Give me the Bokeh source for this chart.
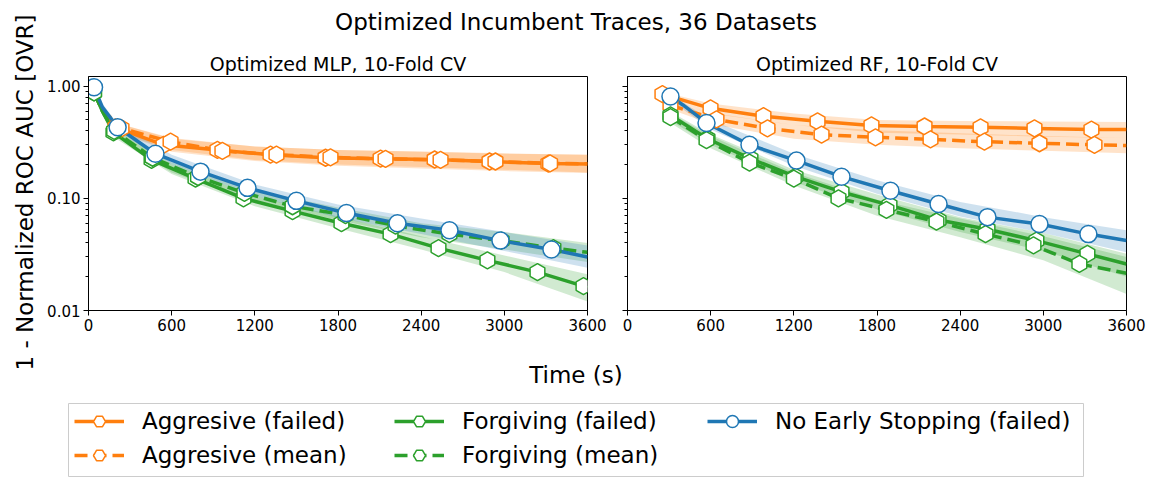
import numpy as np
from bokeh.plotting import figure
from bokeh.layouts import column, row
from bokeh.models import Range1d, FixedTicker, PrintfTickFormatter, Legend, LegendItem, Label
from bokeh.embed import file_html
from bokeh.resources import INLINE

FONT = "DejaVu Sans"
ORANGE = "#ff7f0e"
GREEN = "#2ca02c"
BLUE = "#1f77b4"

SUPTITLE = "Optimized Incumbent Traces, 36 Datasets"
PANEL_TITLES = ["Optimized MLP, 10-Fold CV", "Optimized RF, 10-Fold CV"]
X_LABEL = "Time (s)"
Y_LABEL = "1 - Normalized ROC AUC [OVR]"
LABELS = ["Aggresive (failed)", "Aggresive (mean)", "Forgiving (failed)",
          "Forgiving (mean)", "No Early Stopping (failed)"]
X_TICKS = [0, 600, 1200, 1800, 2400, 3000, 3600]
Y_TICKS = [0.01, 0.1, 1.0]
Y_MINOR = [0.02, 0.03, 0.04, 0.05, 0.06, 0.07, 0.08, 0.09,
           0.2, 0.3, 0.4, 0.5, 0.6, 0.7, 0.8, 0.9]

# ---------------- MLP panel (time in s, 1 - normalized ROC AUC) ----------------
mlp_t_agg_failed = [30, 100, 195, 541, 930, 1313, 1710, 2107, 2497, 2893, 3318, 3600]
mlp_y_agg_failed = [0.92, 0.62, 0.43, 0.30, 0.27, 0.245, 0.23, 0.226, 0.222, 0.213, 0.204, 0.202]
mlp_t_agg_mean = [35, 100, 238, 592, 966, 1356, 1746, 2143, 2540, 2936, 3330, 3600]
mlp_y_agg_mean = [0.90, 0.62, 0.42, 0.32, 0.265, 0.245, 0.232, 0.225, 0.22, 0.213, 0.205, 0.203]
mlp_t_forg_failed = [40, 100, 180, 455, 772, 1118, 1472, 1825, 2179, 2525, 2878, 3239, 3571, 3600]
mlp_y_forg_failed = [0.88, 0.60, 0.387, 0.22, 0.15, 0.10, 0.077, 0.060, 0.048, 0.036, 0.028, 0.022, 0.0165, 0.016]
mlp_t_forg_mean = [40, 100, 185, 462, 790, 1125, 1472, 1854, 2215, 2604, 2980, 3354, 3600]
mlp_y_forg_mean = [0.88, 0.60, 0.40, 0.23, 0.155, 0.112, 0.085, 0.071, 0.057, 0.048, 0.042, 0.036, 0.033]
mlp_t_none = [40, 100, 210, 483, 808, 1147, 1500, 1861, 2229, 2604, 2972, 3340, 3600]
mlp_y_none = [0.98, 0.65, 0.43, 0.25, 0.173, 0.124, 0.095, 0.074, 0.060, 0.052, 0.042, 0.035, 0.030]

mlp_band_t = [40, 100, 200, 600, 1200, 1800, 2400, 3000, 3600]
mlp_lo_agg_failed = [0.85, 0.57, 0.39, 0.26, 0.215, 0.195, 0.185, 0.175, 0.168]
mlp_hi_agg_failed = [0.95, 0.67, 0.47, 0.34, 0.29, 0.27, 0.26, 0.25, 0.245]
mlp_lo_agg_mean = [0.85, 0.57, 0.39, 0.27, 0.22, 0.20, 0.19, 0.18, 0.17]
mlp_hi_agg_mean = [0.95, 0.67, 0.47, 0.345, 0.29, 0.27, 0.262, 0.252, 0.245]
mlp_lo_forg_failed = [0.83, 0.55, 0.34, 0.165, 0.085, 0.054, 0.035, 0.022, 0.012]
mlp_hi_forg_failed = [0.93, 0.65, 0.40, 0.20, 0.105, 0.069, 0.046, 0.031, 0.021]
mlp_lo_forg_mean = [0.83, 0.55, 0.36, 0.17, 0.093, 0.064, 0.045, 0.035, 0.027]
mlp_hi_forg_mean = [0.93, 0.65, 0.42, 0.21, 0.118, 0.083, 0.060, 0.050, 0.040]
mlp_lo_none = [0.93, 0.60, 0.40, 0.20, 0.105, 0.067, 0.048, 0.034, 0.024]
mlp_hi_none = [1.03, 0.70, 0.48, 0.245, 0.133, 0.088, 0.066, 0.050, 0.038]

# ---------------- RF panel ----------------
rf_t_agg_failed = [252, 599, 981, 1371, 1760, 2143, 2547, 2936, 3347, 3600]
rf_y_agg_failed = [0.85, 0.635, 0.54, 0.486, 0.447, 0.437, 0.43, 0.42, 0.41, 0.41]
rf_t_agg_mean = [310, 642, 1010, 1400, 1789, 2186, 2575, 2972, 3369, 3600]
rf_y_agg_mean = [0.675, 0.506, 0.42, 0.37, 0.35, 0.335, 0.32, 0.31, 0.30, 0.296]
rf_t_forg_failed = [310, 577, 887, 1212, 1544, 1890, 2244, 2597, 2950, 3318, 3600]
rf_y_forg_failed = [0.55, 0.34, 0.226, 0.156, 0.114, 0.087, 0.064, 0.053, 0.042, 0.032, 0.026]
rf_t_forg_mean = [310, 570, 880, 1200, 1522, 1868, 2229, 2583, 2929, 3260, 3600]
rf_y_forg_mean = [0.53, 0.33, 0.208, 0.15, 0.10, 0.079, 0.062, 0.048, 0.038, 0.026, 0.0215]
rf_t_none = [310, 400, 570, 880, 1219, 1544, 1897, 2244, 2597, 2972, 3325, 3600]
rf_y_none = [0.81, 0.68, 0.47, 0.30, 0.217, 0.156, 0.117, 0.089, 0.068, 0.059, 0.048, 0.042]

rf_band_t = [300, 600, 1200, 1800, 2400, 3000, 3600]
rf_lo_agg_failed = [0.75, 0.57, 0.45, 0.385, 0.37, 0.355, 0.345]
rf_hi_agg_failed = [0.86, 0.70, 0.57, 0.50, 0.49, 0.485, 0.48]
rf_lo_agg_mean = [0.63, 0.46, 0.34, 0.30, 0.28, 0.265, 0.252]
rf_hi_agg_mean = [0.73, 0.58, 0.45, 0.405, 0.38, 0.36, 0.345]
rf_lo_forg_failed = [0.50, 0.30, 0.14, 0.08, 0.05, 0.034, 0.020]
rf_hi_forg_failed = [0.60, 0.37, 0.18, 0.108, 0.068, 0.049, 0.032]
rf_lo_forg_mean = [0.48, 0.28, 0.13, 0.07, 0.045, 0.028, 0.014]
rf_hi_forg_mean = [0.58, 0.36, 0.17, 0.097, 0.066, 0.046, 0.030]
rf_lo_none = [0.77, 0.41, 0.195, 0.11, 0.069, 0.049, 0.033]
rf_hi_none = [0.86, 0.50, 0.25, 0.145, 0.093, 0.068, 0.052]

# style per series: (color, dash, marker)
STYLES = [
    (ORANGE, "solid", "hex"),
    (ORANGE, "13 6", "hex"),
    (GREEN, "solid", "hex"),
    (GREEN, "13 6", "hex"),
    (BLUE, "solid", "circle"),
]
LW = 3.5


def style_axes(p, show_labels):
    p.xgrid.visible = False
    p.ygrid.visible = False
    p.outline_line_color = "black"
    p.outline_line_width = 1
    p.xaxis.ticker = FixedTicker(ticks=X_TICKS)
    p.yaxis.ticker = FixedTicker(ticks=Y_TICKS, minor_ticks=Y_MINOR)
    p.yaxis.formatter = PrintfTickFormatter(format="%.2f")
    for ax in (p.xaxis[0], p.yaxis[0]):
        ax.major_label_text_font = FONT
        ax.major_label_text_font_size = "15px"
        ax.major_label_text_color = "black"
        ax.major_tick_in = 0
        ax.major_tick_out = 5
        ax.minor_tick_in = 0
        ax.minor_tick_out = 3
        ax.major_tick_line_color = "black"
        ax.minor_tick_line_color = "black"
        ax.axis_line_color = "black"
        ax.major_label_standoff = 3
    p.xaxis.minor_tick_line_color = None
    if not show_labels:
        p.yaxis.major_label_overrides = {0.01: "", 0.1: "", 1.0: ""}


def make_panel(title, width, bl, br, series, show_ylabels):
    p = figure(width=width, height=301, x_range=Range1d(0, 3600),
               y_range=Range1d(0.01, 1.22), y_axis_type="log",
               output_backend="svg", toolbar_location=None,
               min_border_left=bl, min_border_right=br,
               min_border_top=32, min_border_bottom=35)
    p.title.text = title
    p.title.align = "center"
    p.title.text_font = FONT
    p.title.text_font_size = "19px"
    p.title.text_font_style = "normal"
    p.title.text_color = "black"
    p.title.standoff = 3
    style_axes(p, show_ylabels)
    for (t, y, bt, lo, hi, skip), (c, dash, mk) in zip(series, STYLES):
        p.varea(x=bt, y1=lo, y2=hi, fill_color=c, fill_alpha=0.22)
    for (t, y, bt, lo, hi, skip), (c, dash, mk) in zip(series, STYLES):
        p.line(x=t, y=y, line_color=c, line_width=LW, line_dash=dash)
    for (t, y, bt, lo, hi, skip), (c, dash, mk) in zip(series, STYLES):
        mt = [v for i, v in enumerate(t) if i not in skip]
        my = [v for i, v in enumerate(y) if i not in skip]
        p.scatter(x=mt, y=my, marker=mk, size=17, fill_color="white",
                  line_color=c, line_width=1.5,
                  angle=(np.pi / 6 if mk == "hex" else 0))
    return p


mlp_series = [
    (mlp_t_agg_failed, mlp_y_agg_failed, mlp_band_t, mlp_lo_agg_failed, mlp_hi_agg_failed, {1, len(mlp_t_agg_failed) - 1}),
    (mlp_t_agg_mean, mlp_y_agg_mean, mlp_band_t, mlp_lo_agg_mean, mlp_hi_agg_mean, {1, len(mlp_t_agg_mean) - 1}),
    (mlp_t_forg_failed, mlp_y_forg_failed, mlp_band_t, mlp_lo_forg_failed, mlp_hi_forg_failed, {1, len(mlp_t_forg_failed) - 1}),
    (mlp_t_forg_mean, mlp_y_forg_mean, mlp_band_t, mlp_lo_forg_mean, mlp_hi_forg_mean, {1, len(mlp_t_forg_mean) - 1}),
    (mlp_t_none, mlp_y_none, mlp_band_t, mlp_lo_none, mlp_hi_none, {1, len(mlp_t_none) - 1}),
]
rf_series = [
    (rf_t_agg_failed, rf_y_agg_failed, rf_band_t, rf_lo_agg_failed, rf_hi_agg_failed, {len(rf_t_agg_failed) - 1}),
    (rf_t_agg_mean, rf_y_agg_mean, rf_band_t, rf_lo_agg_mean, rf_hi_agg_mean, {len(rf_t_agg_mean) - 1}),
    (rf_t_forg_failed, rf_y_forg_failed, rf_band_t, rf_lo_forg_failed, rf_hi_forg_failed, {len(rf_t_forg_failed) - 1}),
    (rf_t_forg_mean, rf_y_forg_mean, rf_band_t, rf_lo_forg_mean, rf_hi_forg_mean, {len(rf_t_forg_mean) - 1}),
    (rf_t_none, rf_y_none, rf_band_t, rf_lo_none, rf_hi_none, {1, len(rf_t_none) - 1}),
]

p_left = make_panel(PANEL_TITLES[0], 567, 48, 20, mlp_series, True)
p_right = make_panel(PANEL_TITLES[1], 544, 20, 25, rf_series, False)


def text_fig(width, height):
    f = figure(width=width, height=height, x_axis_type=None, y_axis_type=None,
               x_range=Range1d(0, 1), y_range=Range1d(0, 1),
               output_backend="svg", toolbar_location=None,
               min_border_left=0, min_border_right=0, min_border_top=0, min_border_bottom=0)
    f.outline_line_color = None
    f.xgrid.visible = False
    f.ygrid.visible = False
    return f


# suptitle (centred on the whole picture)
p_title = text_fig(1111, 44)
p_title.add_layout(Label(x=535.5, y=23, x_units="screen", y_units="screen", text=SUPTITLE,
                         text_font=FONT, text_font_size="23px", text_align="center",
                         text_baseline="middle", text_color="black"))

# x axis label
p_xlab = text_fig(1111, 53)
p_xlab.add_layout(Label(x=535.5, y=24, x_units="screen", y_units="screen", text=X_LABEL,
                        text_font=FONT, text_font_size="23px", text_align="center",
                        text_baseline="middle", text_color="black"))

# y axis label (shared)
p_ylab = text_fig(40, 398)
p_ylab.add_layout(Label(x=24, y=206, x_units="screen", y_units="screen", text=Y_LABEL,
                        text_font=FONT, text_font_size="23px", text_align="center",
                        text_baseline="middle", angle=np.pi / 2, text_color="black"))

# ---------------- legend ----------------
p_leg = figure(width=1151, height=79, x_axis_type=None, y_axis_type=None,
               x_range=Range1d(0, 1), y_range=Range1d(0, 1),
               output_backend="svg", toolbar_location=None,
               min_border_left=68, min_border_right=68, min_border_top=5, min_border_bottom=0)
p_leg.xgrid.visible = False
p_leg.ygrid.visible = False
p_leg.outline_line_color = "#cccccc"
p_leg.outline_line_width = 1

items = []
for label, (t, y, bt, lo, hi, skip), (c, dash, mk) in zip(LABELS, mlp_series, STYLES):
    # same series data; the legend frame's 0..1 time range keeps them off-frame
    lr = p_leg.line(x=t, y=y, line_color=c, line_width=LW, line_dash=dash)
    sr = p_leg.scatter(x=t, y=y, marker=mk, size=17, fill_color="white",
                       line_color=c, line_width=1.5,
                       angle=(np.pi / 6 if mk == "hex" else 0))
    items.append(LegendItem(label=label, renderers=[lr, sr]))

LEG_COLS = [(items[0:2], 6, 7), (items[2:4], 326, 7), (items[4:5], 639, 41)]
for its, lx, ly in LEG_COLS:
    leg = Legend(items=its, location=(lx, ly), orientation="vertical",
                 glyph_width=50, glyph_height=30, label_height=30, spacing=4,
                 label_standoff=18, padding=0, margin=0,
                 label_text_font=FONT, label_text_font_size="23px",
                 label_text_color="black",
                 border_line_color=None, background_fill_alpha=0)
    p_leg.add_layout(leg, "center")

layout = column(row(p_ylab, column(p_title, row(p_left, p_right), p_xlab)), p_leg)
open("out.html", "w").write(file_html(layout, INLINE))
